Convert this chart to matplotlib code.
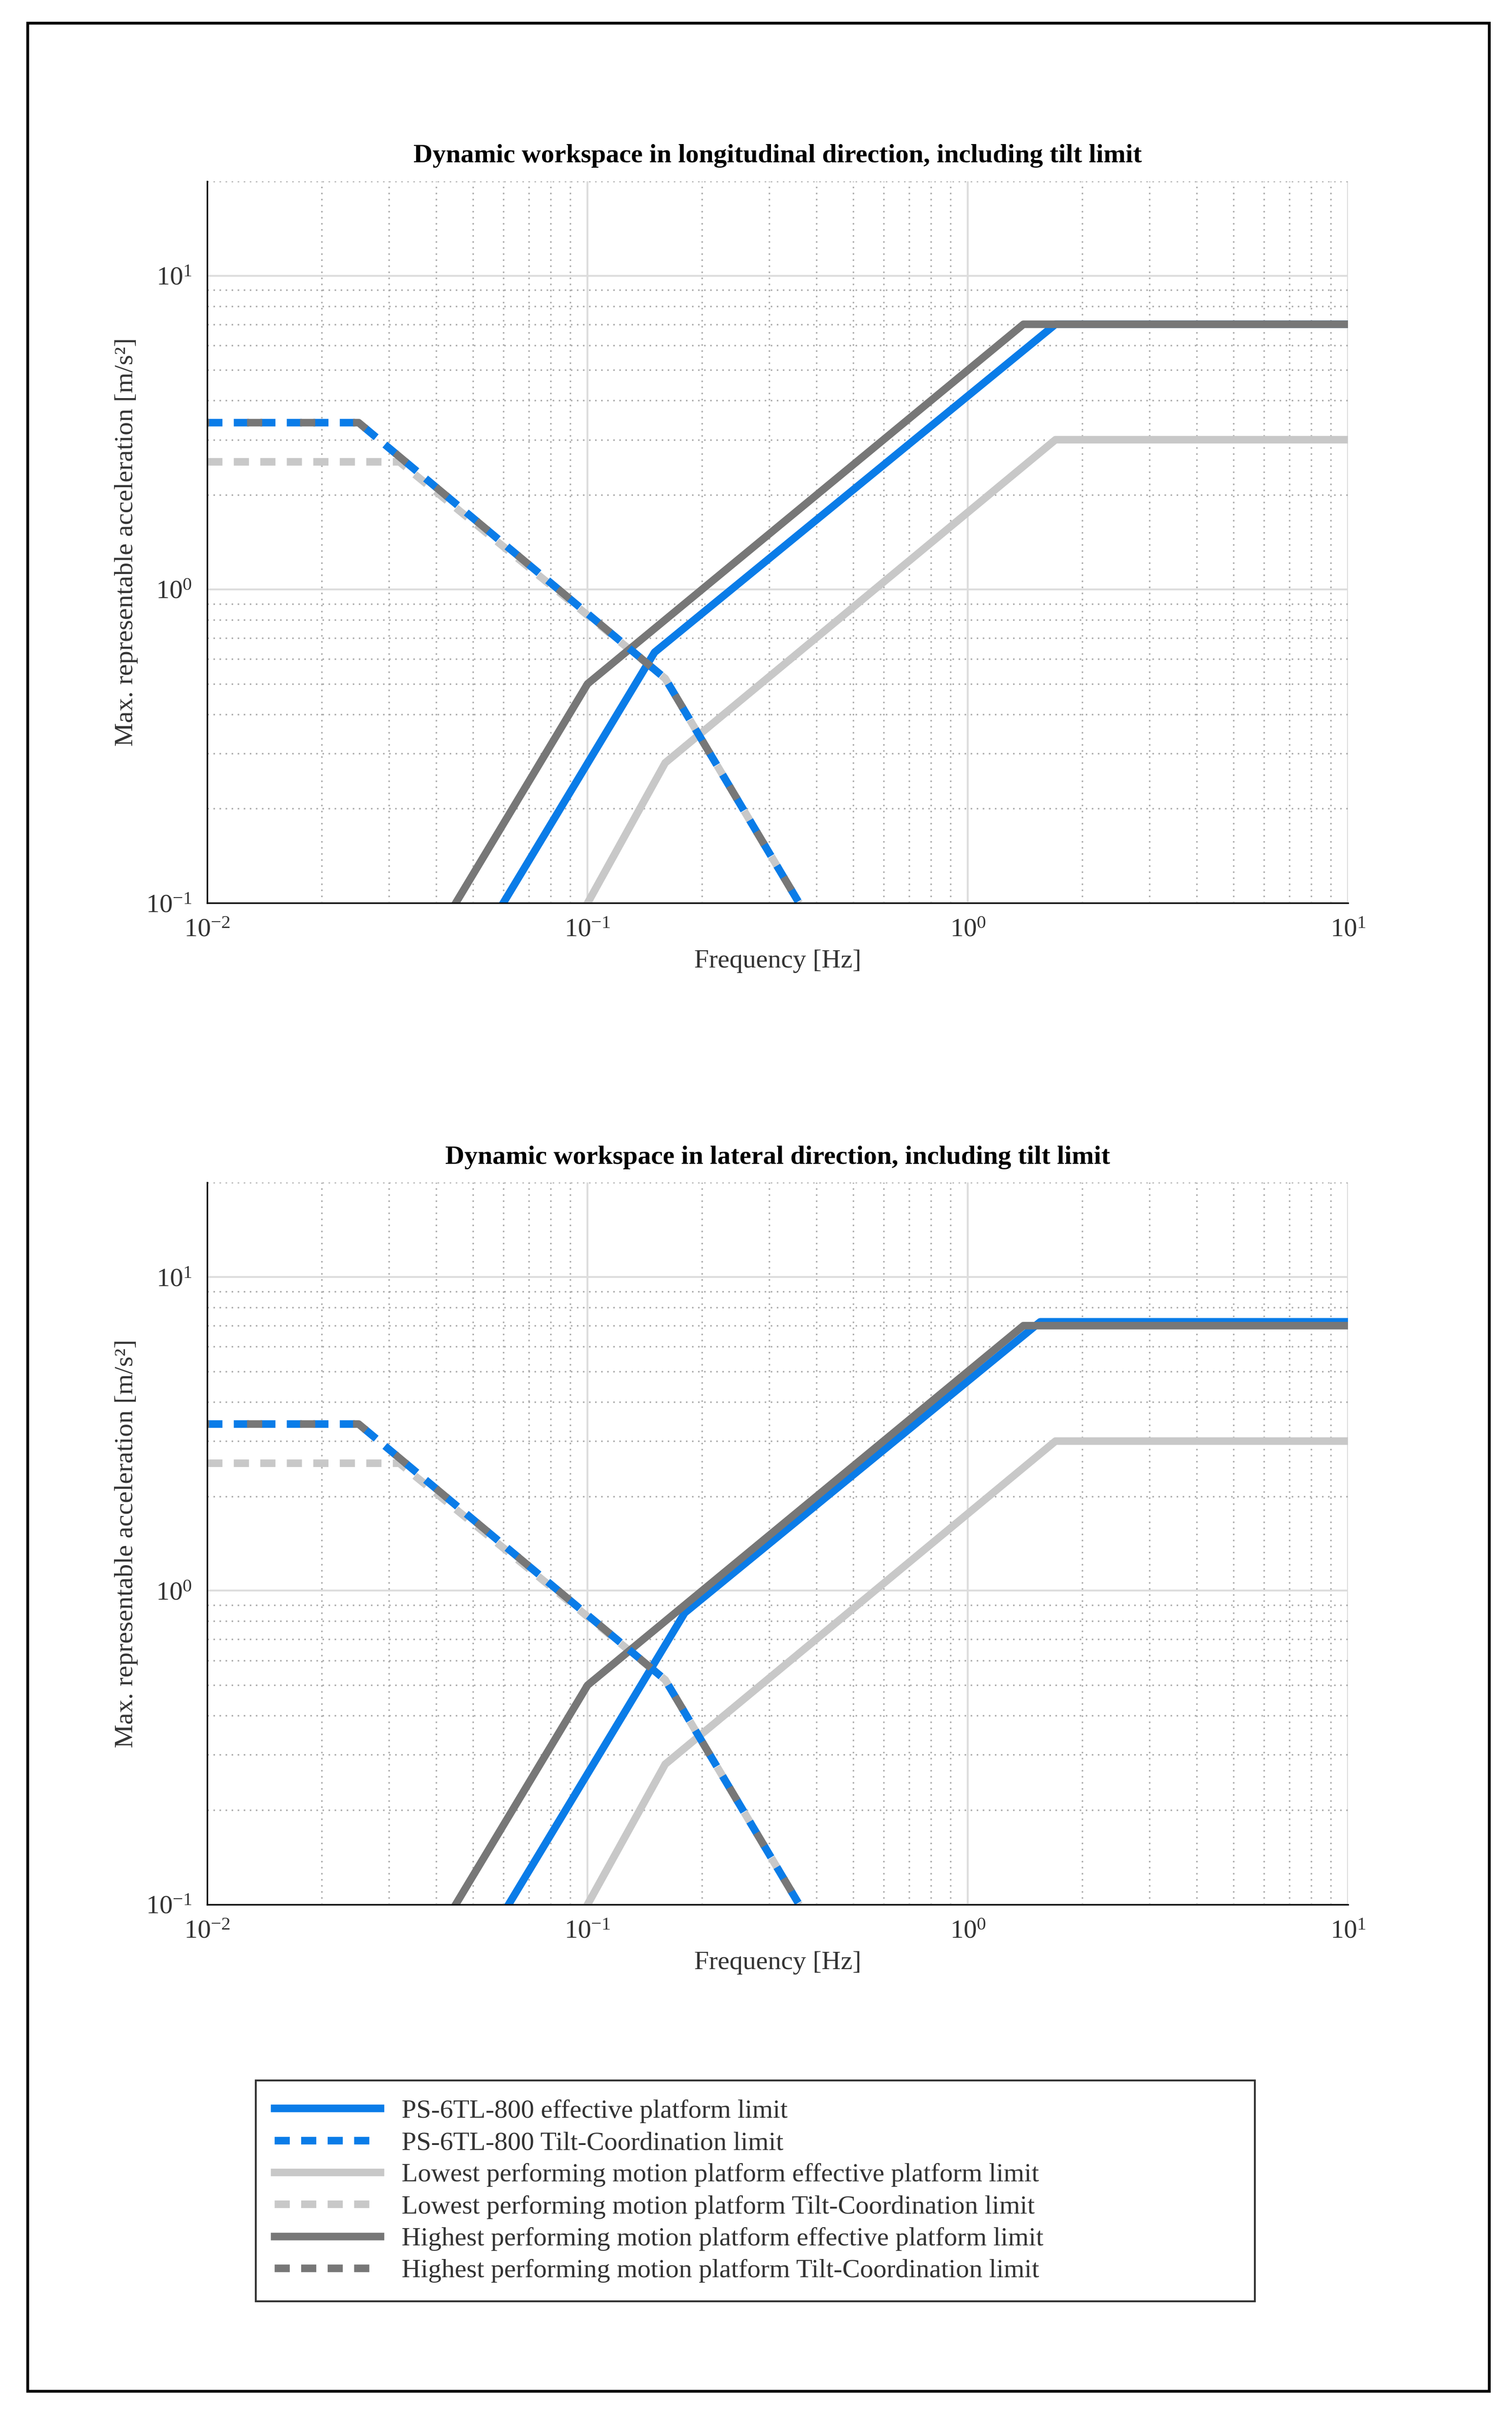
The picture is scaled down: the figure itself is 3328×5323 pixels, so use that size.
import matplotlib
matplotlib.use("Agg")
import matplotlib.pyplot as plt
from matplotlib.patches import Rectangle

plt.rcParams["font.family"] = "Liberation Serif"

# effective platform limits (breakpoints)
long_ps_f = [0.06, 0.15, 1.7, 10]
long_ps_a = [0.1, 0.63, 7.0, 7.0]
lat_ps_f = [0.062, 0.18, 1.55, 10]
lat_ps_a = [0.1, 0.85, 7.2, 7.2]
low_f = [0.1, 0.16, 1.7, 10]
low_a = [0.1, 0.28, 3.0, 3.0]
high_f = [0.045, 0.1, 1.4, 10]
high_a = [0.1, 0.5, 7.0, 7.0]

# tilt-coordination limits
tilt_f = [0.01, 0.025, 0.16, 0.36]
tilt_a = [3.4, 3.4, 0.52, 0.1]
tilt_low_f = [0.01, 0.032, 0.16, 0.36]
tilt_low_a = [2.55, 2.55, 0.52, 0.1]

blue = "#0a7ce8"
light = "#c8c8c8"
dark = "#777777"
lw = 4
fs = 14

fig = plt.figure(figsize=(3329 / 300, 5323 / 300), dpi=300)
fig.patches.append(Rectangle((18 / 985, 1 - 1557 / 1575), 952 / 985, 1542 / 1575,
                             transform=fig.transFigure, fill=False, lw=1.5, ec="black"))

titles = ["Dynamic workspace in longitudinal direction, including tilt limit",
          "Dynamic workspace in lateral direction, including tilt limit"]
ps_data = [(long_ps_f, long_ps_a), (lat_ps_f, lat_ps_a)]
tops = [118, 770]

for k in range(2):
    ax = fig.add_axes([135 / 985, 1 - (tops[k] + 470) / 1575, 743 / 985, 470 / 1575])
    ax.set_xscale("log")
    ax.set_yscale("log")
    ax.set_xlim(0.01, 10)
    ax.set_ylim(0.1, 20)
    ax.grid(True, which="major", color="#dddddd", lw=1)
    ax.grid(True, which="minor", color="#aaaaaa", lw=0.8, ls=(0, (1, 3)))
    ax.set_axisbelow(True)
    for s in ["top", "right"]:
        ax.spines[s].set_visible(False)
    ax.tick_params(which="both", length=0, labelsize=fs, colors="#333333", pad=8)
    ax.set_xlabel("Frequency [Hz]", fontsize=fs, color="#333333")
    ax.set_ylabel("Max. representable acceleration [m/s²]", fontsize=fs, color="#333333")
    ax.set_title(titles[k], fontsize=fs, fontweight="bold", pad=10)

    ax.plot(low_f, low_a, color=light, lw=lw)
    ax.plot(tilt_low_f, tilt_low_a, color=light, lw=lw, ls=(0, (2, 1.5)))
    ax.plot(*ps_data[k], color=blue, lw=lw)
    ax.plot(high_f, high_a, color=dark, lw=lw)
    ax.plot(tilt_f, tilt_a, color=blue, lw=lw, ls=(0, (2, 1.5)))
    ax.plot(tilt_f, tilt_a, color=dark, lw=lw, ls=(1.75, (2, 5.0)))

# legend
lax = fig.add_axes([158 / 985, 1 - 1515 / 1575, 668 / 985, 177 / 1575])
lax.axis("off")
h = [plt.Line2D([], [], color=blue, lw=lw),
     plt.Line2D([], [], color=blue, lw=lw, ls=(0, (2, 1.5))),
     plt.Line2D([], [], color=light, lw=lw),
     plt.Line2D([], [], color=light, lw=lw, ls=(0, (2, 1.5))),
     plt.Line2D([], [], color=dark, lw=lw),
     plt.Line2D([], [], color=dark, lw=lw, ls=(0, (2, 1.5)))]
labels = ["PS-6TL-800 effective platform limit",
          "PS-6TL-800 Tilt-Coordination limit",
          "Lowest performing motion platform effective platform limit",
          "Lowest performing motion platform Tilt-Coordination limit",
          "Highest performing motion platform effective platform limit",
          "Highest performing motion platform Tilt-Coordination limit"]
leg = lax.legend(h, labels, loc="center", mode="expand", bbox_to_anchor=(0, 0, 1, 1),
                 fontsize=fs, frameon=True, fancybox=False, edgecolor="black",
                 handlelength=4, labelspacing=0.3, borderpad=0.7)
leg.get_frame().set_linewidth(1)
for t in leg.get_texts():
    t.set_color("#333333")

fig.savefig("out.png", dpi=300)
